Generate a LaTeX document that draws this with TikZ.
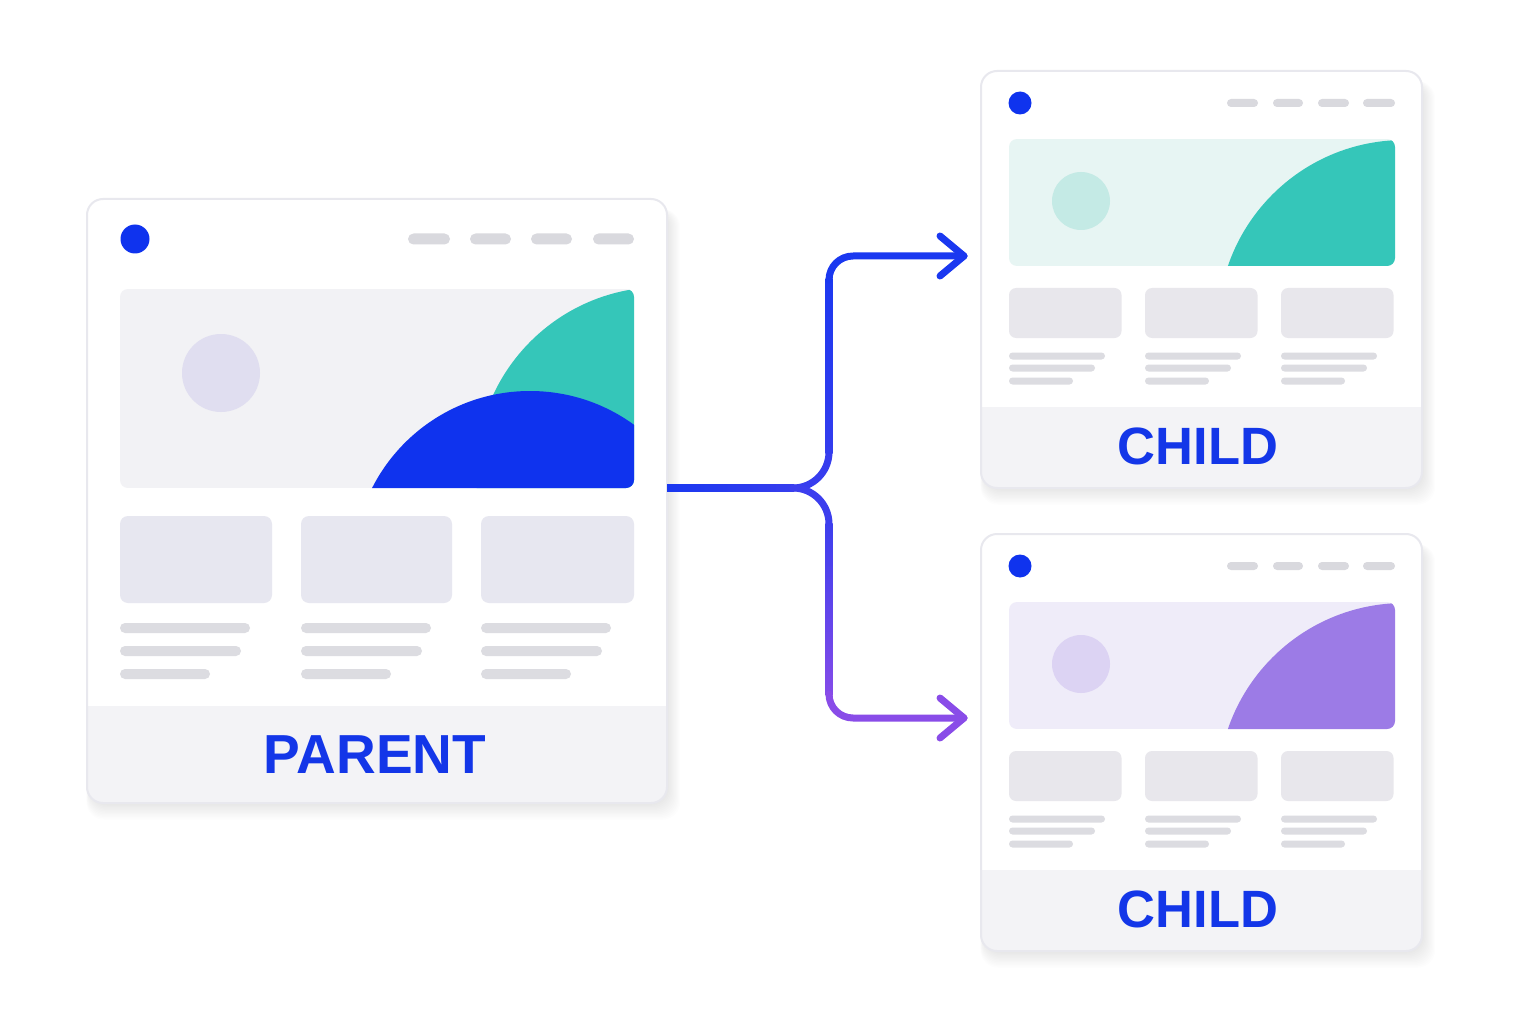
\documentclass[tikz,border=0pt]{standalone}
\usepackage{fontspec}
\setmainfont{Liberation Sans}
\definecolor{cardline}{HTML}{E8E8EE}
\definecolor{footc}{HTML}{F3F3F6}
\definecolor{herogray}{HTML}{F2F2F5}
\definecolor{pcirc}{HTML}{E0DEF0}
\definecolor{tealc}{HTML}{35C6B9}
\definecolor{bluec}{HTML}{0F33EE}
\definecolor{pboxc}{HTML}{E7E7F0}
\definecolor{cboxc}{HTML}{E8E7EC}
\definecolor{linec}{HTML}{DCDCE1}
\definecolor{pillc}{HTML}{D9D9DE}
\definecolor{tealhero}{HTML}{E7F5F3}
\definecolor{tealcirc}{HTML}{C4EAE5}
\definecolor{purphero}{HTML}{EFECF9}
\definecolor{purpcirc}{HTML}{DCD3F3}
\definecolor{purpc}{HTML}{9C7BE6}
\definecolor{labelc}{HTML}{1336E8}
\definecolor{conblue}{HTML}{1A38F0}
\definecolor{conpurple}{HTML}{8D4DE8}
\colorlet{cT0}{conblue}
\colorlet{cT03}{conpurple!3!conblue}
\colorlet{cT22}{conpurple!22!conblue}
\colorlet{cT25}{conpurple!25!conblue}
\colorlet{cT30}{conpurple!30!conblue}
\colorlet{cT92}{conpurple!92!conblue}
\colorlet{cT97}{conpurple!97!conblue}
\tikzset{
  cardborder/.style={draw=cardline, line width=2pt, rounded corners=16pt},
  pill/.style={fill=pillc, rounded corners=4pt},
  textline/.style={fill=linec, rounded corners=#1},
  textline/.default=3.5pt,
  lbl/.style={inner sep=0pt, text=labelc},
  conn/.style={line width=7pt, line cap=round, line join=round},
}
\newcommand\cardshadow[4]{%
  \foreach \i in {1,...,12}{%
    \fill[black, opacity=0.007, rounded corners=18pt]
      (#1+3-\i*0.3, #2+10) rectangle (#3+\i*1.1, #4+\i*1.4);}}
\newcommand\childcard[5]{%
\begin{scope}[shift={(0,#1)}]
  \cardshadow{981}{71}{1422}{488}
  \fill[white, rounded corners=16pt] (981,71) rectangle (1422,488);
  \begin{scope}
    \clip[rounded corners=16pt] (981,71) rectangle (1422,488);
    \fill[footc] (981,407) rectangle (1422,488);
  \end{scope}
  \draw[cardborder] (981,71) rectangle (1422,488);
  \node[inner sep=0pt, minimum width=441pt, minimum height=417pt] (#5) at (1201.5,279.5) {};
  \fill[bluec] (1020,103) circle[radius=11.5];
  \fill[pill] (1227,99) rectangle (1258,107);
  \fill[pill] (1273,99) rectangle (1303,107);
  \fill[pill] (1318,99) rectangle (1349,107);
  \fill[pill] (1363,99) rectangle (1395,107);
  \begin{scope}
    \clip[rounded corners=8pt] (1009,139) rectangle (1395,266);
    \fill[#2] (1009,139) rectangle (1395,266);
    \fill[#3] (1081,201) circle[radius=29];
    \fill[#4] (1404,326) circle[radius=186];
  \end{scope}
  \foreach \x in {1009,1145,1281}{%
    \fill[cboxc, rounded corners=7pt] (\x,288) rectangle (\x+112.5,338);
    \fill[textline] (\x,352.5) rectangle (\x+96,359.5);
    \fill[textline] (\x,364.5) rectangle (\x+86,371.5);
    \fill[textline] (\x,377.5) rectangle (\x+64,384.5);
  }
  \node[lbl, font=\fontsize{52.5pt}{56pt}\selectfont\bfseries] (#5label) at (1198,446) {CHILD};
\end{scope}}
\begin{document}
\begin{tikzpicture}[x=1pt,y=-1pt]
\useasboundingbox (0,0) rectangle (1536,1024);
\fill[white] (0,0) rectangle (1536,1024);

% ---------- parent card ----------
\cardshadow{87}{199}{667}{803}
\fill[white, rounded corners=16pt] (87,199) rectangle (667,803);
\begin{scope}
  \clip[rounded corners=16pt] (87,199) rectangle (667,803);
  \fill[footc] (87,706) rectangle (667,803);
\end{scope}
\draw[cardborder] (87,199) rectangle (667,803);
\node[inner sep=0pt, minimum width=580pt, minimum height=604pt] (parent) at (377,501) {};
\fill[bluec] (135,239) circle[radius=14.5];
\fill[pill, rounded corners=5.5pt] (408,233.5) rectangle (450,244.5);
\fill[pill, rounded corners=5.5pt] (470,233.5) rectangle (511,244.5);
\fill[pill, rounded corners=5.5pt] (531,233.5) rectangle (572,244.5);
\fill[pill, rounded corners=5.5pt] (593,233.5) rectangle (634,244.5);
\begin{scope}
  \clip[rounded corners=8pt] (120,289) rectangle (634,488);
  \fill[herogray] (120,289) rectangle (634,488);
  \fill[pcirc] (221,373) circle[radius=39];
  \fill[tealc] (662,473) circle[radius=186];
  \fill[bluec] (530,568) circle[radius=177];
\end{scope}
\node[inner sep=0pt, minimum width=514pt, minimum height=199pt] (phero) at (377,388.5) {};
\foreach \x/\w in {120/152,301/151,481/153}{%
  \fill[pboxc, rounded corners=8pt] (\x,516) rectangle (\x+\w,603);
}
\foreach \x in {120,301,481}{%
  \fill[textline=5pt] (\x,623) rectangle (\x+130,633);
  \fill[textline=5pt] (\x,646) rectangle (\x+121,656);
  \fill[textline=5pt] (\x,669) rectangle (\x+90,679);
}
\node[lbl, font=\fontsize{55pt}{60pt}\selectfont\bfseries] (plabel) at (375,755) {PARENT};

% ---------- child cards ----------
\childcard{0}{tealhero}{tealcirc}{tealc}{childA}
\childcard{463}{purphero}{purpcirc}{purpc}{childB}

% ---------- connectors ----------
\coordinate (pout) at (parent.east |- phero.south);
\coordinate (split) at (793,488);
\coordinate (tipA) at (964,256);
\coordinate (tipB) at (964,718);
% stub: horizontal gradient
\shade[left color=cT0, right color=cT25] (pout) ++(0,-3.5) rectangle (794,491.5);
% junction curves
\draw[conn, cT25] (split) .. controls (812.9,488) and (829,471.9) .. (829,452);
\draw[conn, cT30] (split) .. controls (812.9,488) and (829,504.1) .. (829,524);
% vertical runs: vertical gradients
\shade[top color=cT03, bottom color=cT22] (825.5,279) rectangle (832.5,453);
\shade[top color=cT30, bottom color=cT92] (825.5,523) rectangle (832.5,695);
% upper end and arrowhead
\draw[conn, cT0] (829,280) .. controls (829,266.7) and (839.7,256) .. (853,256) -- (tipA);
\draw[conn, cT0] (940,236) -- (tipA) -- (940,276);
% lower end and arrowhead
\draw[conn, cT97] (829,694) .. controls (829,707.3) and (839.7,718) .. (853,718) -- (tipB);
\draw[conn, cT97] (940,698) -- (tipB) -- (940,738);
\end{tikzpicture}
\end{document}
